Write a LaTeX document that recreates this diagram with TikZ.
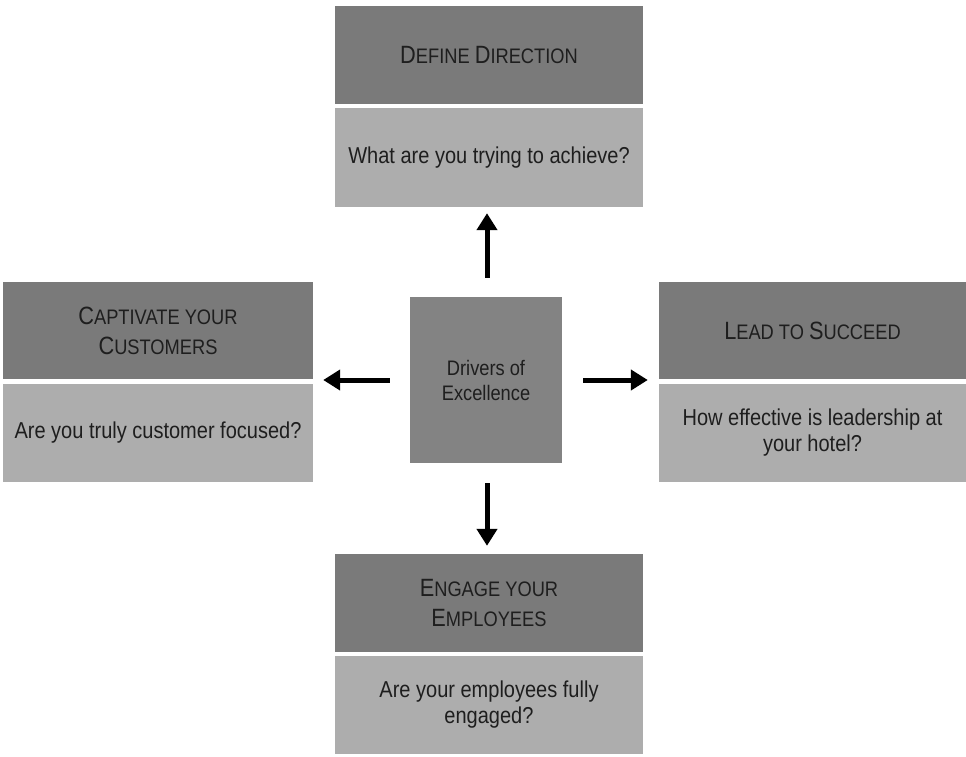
\documentclass[tikz,border=0pt]{standalone}
\usepackage{fontspec}
\setmainfont{Liberation Sans}[FakeStretch=0.87]
\usetikzlibrary{arrows.meta}
\definecolor{darkbox}{HTML}{7A7A7A}
\definecolor{lightbox}{HTML}{ADADAD}
\definecolor{ctrbox}{HTML}{838383}
\definecolor{txt}{HTML}{1E1E1E}
\newcommand\tsc[2]{{\fontsize{25}{30}\selectfont #1}{\fontsize{21}{30}\selectfont #2}}
\tikzset{
  base/.style={inner sep=0pt, text=txt, align=center},
  head/.style={base, fill=darkbox, font=\fontsize{21}{30}\selectfont},
  body/.style={base, fill=lightbox, font=\fontsize{23}{26}\selectfont},
  ctr/.style={base, fill=ctrbox, font=\fontsize{21}{25}\selectfont},
  arr/.style={line width=5pt, -{Triangle[length=17pt,width=20pt]}}
}
\begin{document}
\begin{tikzpicture}[x=1pt,y=-1pt]
\useasboundingbox (0,0) rectangle (966,756);
% top
\node[head, minimum width=308, minimum height=98] (tophead) at (489,55) {\tsc{D}{EFINE }\tsc{D}{IRECTION}};
\node[body, minimum width=308, minimum height=99] (topbody) at (489,157.5) {What are you trying to achieve?};
% left
\node[head, minimum width=310, minimum height=97] (lefthead) at (158,330.5) {\tsc{C}{APTIVATE YOUR}\\\tsc{C}{USTOMERS}};
\node[body, minimum width=310, minimum height=98] (leftbody) at (158,433) {Are you truly customer focused?};
% right
\node[head, minimum width=307, minimum height=97] (righthead) at (812.5,330.5) {\tsc{L}{EAD TO }\tsc{S}{UCCEED}};
\node[body, minimum width=307, minimum height=98] (rightbody) at (812.5,433) {How effective is leadership at\\your hotel?};
% bottom
\node[head, minimum width=308, minimum height=98] (bothead) at (489,603) {\tsc{E}{NGAGE YOUR}\\\tsc{E}{MPLOYEES}};
\node[body, minimum width=308, minimum height=98] (botbody) at (489,705) {Are your employees fully\\engaged?};
% center
\node[ctr, minimum width=152, minimum height=166] (center) at (486,380) {Drivers of\\Excellence};
% arrows
\draw[arr, shorten <=19pt, shorten >=6pt] ([xshift=1pt]center.north) -- ([xshift=1pt]center.north |- topbody.south);
\draw[arr, shorten <=20pt, shorten >=8pt] ([xshift=1pt]center.south) -- ([xshift=1pt]center.south |- bothead.north);
\draw[arr, shorten <=20pt, shorten >=10pt] (center.west) -- (center.west -| leftbody.east);
\draw[arr, shorten <=21pt, shorten >=11pt] (center.east) -- (center.east -| rightbody.west);
\end{tikzpicture}
\end{document}
